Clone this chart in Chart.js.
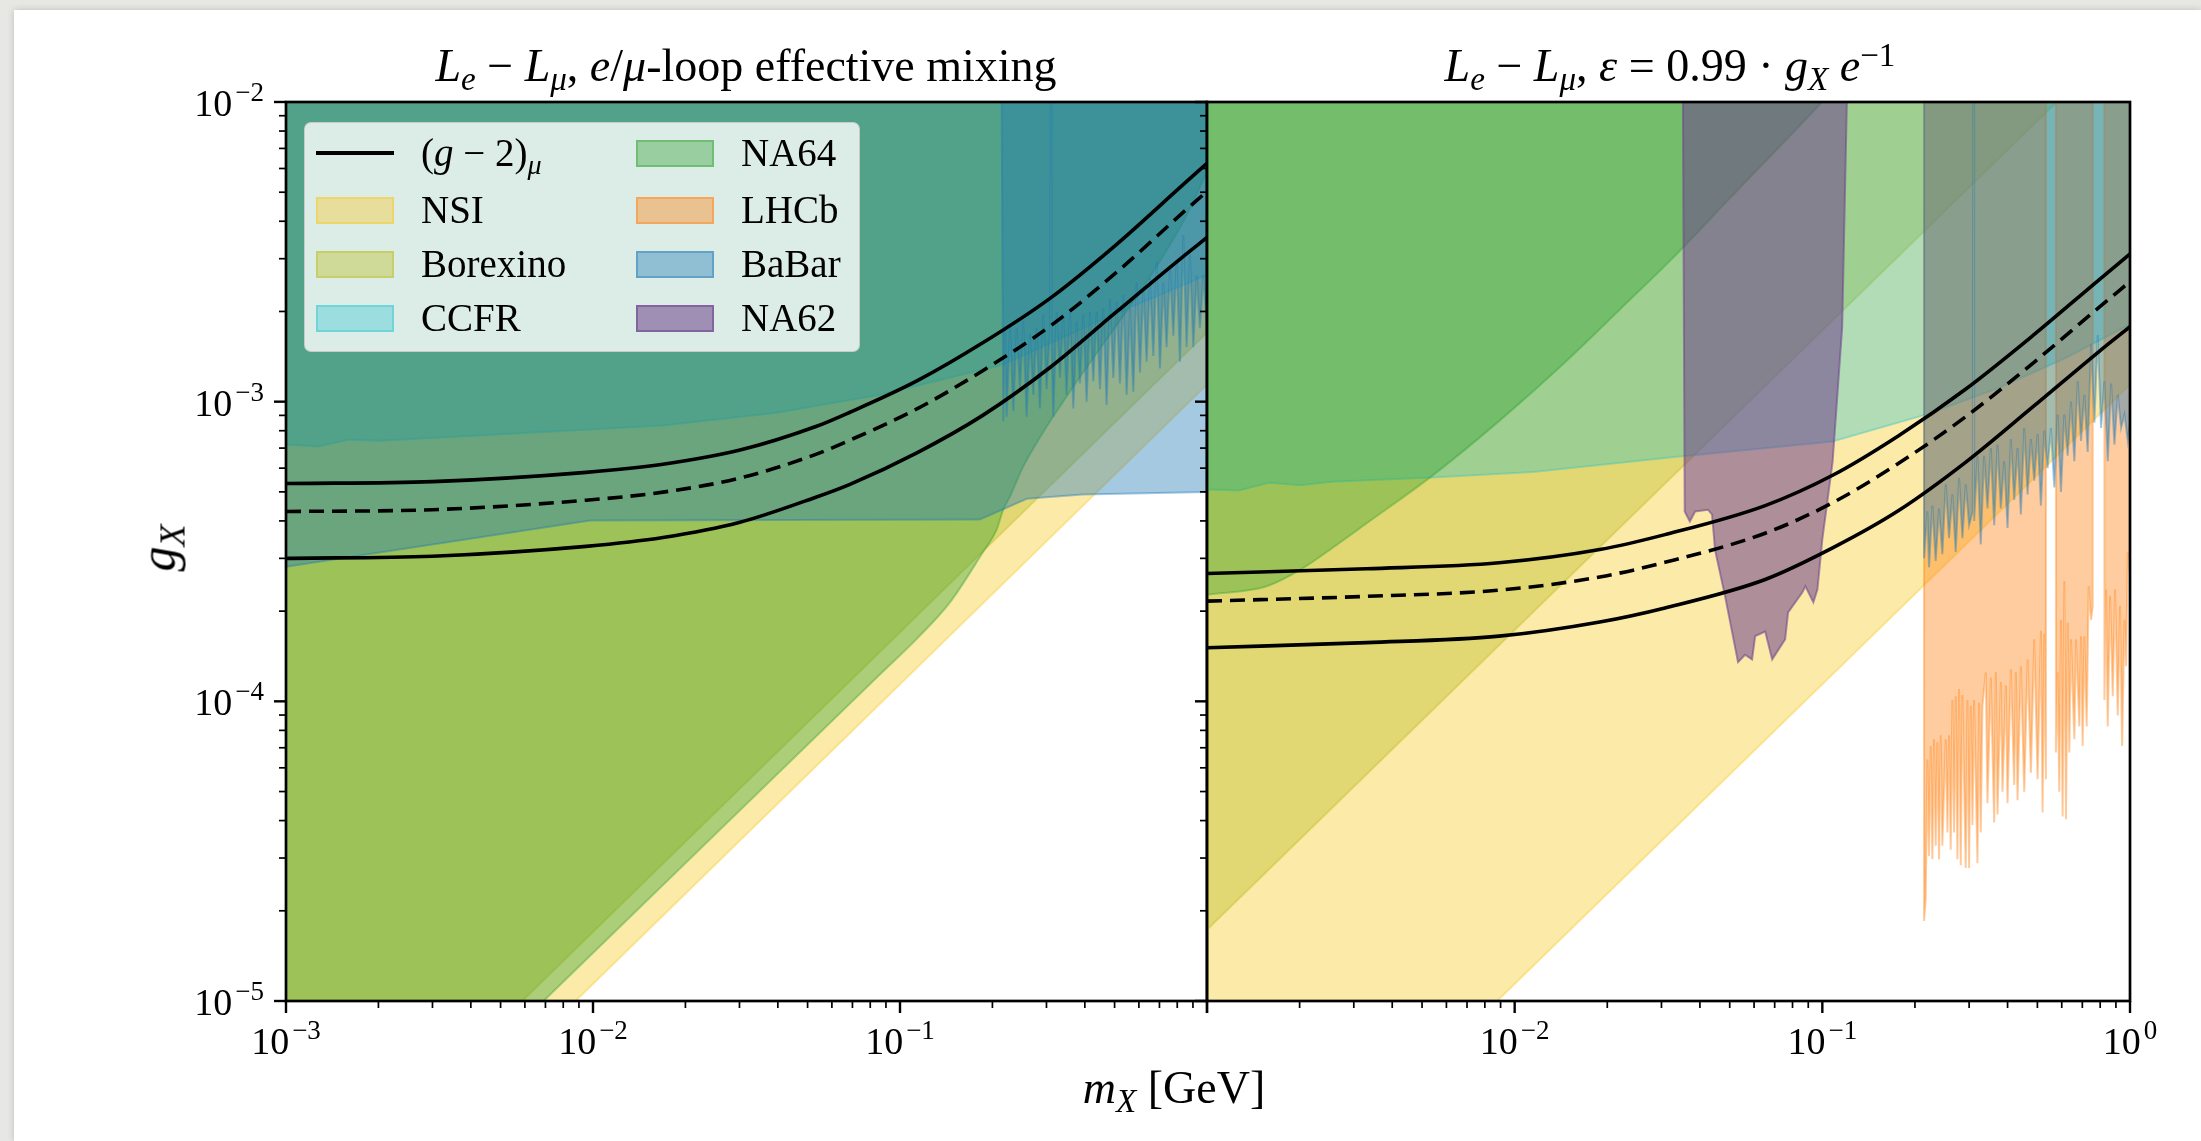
<!DOCTYPE html>
<html>
<head>
<meta charset="utf-8">
<title>L_e - L_mu constraints</title>
<script src="https://cdn.jsdelivr.net/npm/chart.js@4.4.1/dist/chart.umd.min.js"></script>
<style>
  html, body { margin: 0; padding: 0; }
  body { width: 2201px; height: 1141px; background: #e7e7e3; position: relative; overflow: hidden;
         font-family: "Liberation Serif", "DejaVu Serif", serif; color: #000; }
  #sheet { position: absolute; left: 14px; top: 10px; width: 2187px; height: 1131px; background: #fff;
           box-shadow: 0 0 7px rgba(0,0,0,0.18); }
  canvas { position: absolute; left: 0; top: 0; }
  .txt { position: absolute; white-space: nowrap; }
  .f46 { font-size: 46px; line-height: 46px; }
  .f39 { font-size: 39px; line-height: 39px; }
  .sub { position: relative; top: 0.28em; font-size: 0.72em; }
  .sup { position: relative; top: -0.45em; font-size: 0.72em; }
  #legend { position: absolute; left: 304px; top: 122px; width: 556px; height: 230px; box-sizing: border-box;
            border: 1.5px solid rgba(200,200,200,0.9); border-radius: 7px; background: rgba(255,255,255,0.8); }
  .sw { position: absolute; width: 78px; height: 27px; box-sizing: border-box; border-width: 2.5px; border-style: solid; }
  .ln { position: absolute; width: 78px; height: 3.5px; background: #000; }
</style>
</head>
<body>
<div id="sheet"></div>
<canvas id="panelLeft" width="2201" height="1141"></canvas>
<canvas id="panelRight" width="2201" height="1141"></canvas>

<div class="txt f46" style="left:746px; top:43px; transform:translateX(-50%);"><i>L</i><span class="sub"><i>e</i></span> − <i>L</i><span class="sub"><i>μ</i></span>, <i>e</i>/<i>μ</i>-loop effective mixing</div>
<div class="txt f46" style="left:1670px; top:43px; transform:translateX(-50%);"><i>L</i><span class="sub"><i>e</i></span> − <i>L</i><span class="sub"><i>μ</i></span>, <i>ε</i> = 0.99 · <i>g</i><span class="sub"><i>X</i></span> <i>e</i><span class="sup">−1</span></div>
<div class="txt" style="left:1174px; top:1065px; font-size:46px; line-height:46px; transform:translateX(-50%);"><i>m</i><span class="sub"><i>X</i></span> [GeV]</div>
<div class="txt" style="left:160px; top:548px; font-size:50px; line-height:50px; transform:translate(-50%,-50%) rotate(-90deg);"><i>g</i><span class="sub"><i>X</i></span></div>

<div id="legend"></div>

<script>
// ---------------- data: coupling limits g_X versus mass m_X [GeV] ----------------
// muon g-2 preferred band (upper edge, central value, lower edge)
const gm2UpperLoop   = [[1e-3,5.33e-4],[3.0e-3,5.41e-4],[9.5e-3,5.81e-4],[0.0169,6.18e-4],[0.0299,6.88e-4],[0.0532,8.26e-4],[0.0687,9.22e-4],[0.1135,1.173e-3],[0.186,1.572e-3],[0.308,2.212e-3],[0.509,3.358e-3],[0.836,5.30e-3],[1,6.24e-3]];
const gm2CentralLoop = [[1e-3,4.30e-4],[3.0e-3,4.36e-4],[9.5e-3,4.69e-4],[0.0169,4.99e-4],[0.0299,5.55e-4],[0.0532,6.67e-4],[0.0687,7.44e-4],[0.1135,9.46e-4],[0.186,1.269e-3],[0.308,1.785e-3],[0.509,2.709e-3],[0.836,4.28e-3],[1,5.03e-3]];
const gm2LowerLoop   = [[1e-3,3.00e-4],[3.0e-3,3.05e-4],[9.5e-3,3.29e-4],[0.0169,3.52e-4],[0.0299,3.95e-4],[0.0532,4.80e-4],[0.0687,5.30e-4],[0.1135,6.75e-4],[0.186,9.0e-4],[0.308,1.30e-3],[0.509,2.0e-3],[0.836,3.05e-3],[1,3.53e-3]];
const gm2UpperKin    = [[1e-3,2.67e-4],[3.3e-3,2.77e-4],[8.9e-3,2.90e-4],[0.0189,3.21e-4],[0.0308,3.60e-4],[0.0652,4.50e-4],[0.108,5.68e-4],[0.177,7.70e-4],[0.292,1.10e-3],[0.483,1.66e-3],[0.793,2.55e-3],[1,3.11e-3]];
const gm2CentralKin  = [[1e-3,2.16e-4],[3.3e-3,2.24e-4],[8.9e-3,2.35e-4],[0.0189,2.60e-4],[0.0308,2.91e-4],[0.0652,3.64e-4],[0.108,4.60e-4],[0.177,6.23e-4],[0.292,8.90e-4],[0.483,1.343e-3],[0.793,2.063e-3],[1,2.516e-3]];
const gm2LowerKin    = [[1e-3,1.51e-4],[3.3e-3,1.57e-4],[8.9e-3,1.65e-4],[0.0189,1.84e-4],[0.0308,2.05e-4],[0.0652,2.55e-4],[0.108,3.25e-4],[0.177,4.33e-4],[0.292,6.27e-4],[0.483,9.6e-4],[0.793,1.47e-3],[1,1.78e-3]];

// neutrino non-standard interactions (same in both panels)
const nsiBound = [[1e-3,1.14e-6],[1,1.14e-3]];
// Borexino
const borexinoLoop = [[1e-3,1.70e-6],[1,1.70e-3]];
const borexinoKin  = [[1e-3,1.73e-5],[1,1.73e-2]];
// CCFR
const ccfrLoop = [[1e-3,7.19e-4],[1.27e-3,7.08e-4],[1.6e-3,7.47e-4],[2.02e-3,7.41e-4],[5.37e-3,7.82e-4],[0.0169,8.32e-4],[0.0397,9.19e-4],[0.0861,1.055e-3],[0.217,1.33e-3],[0.466,1.9e-3],[1,2.65e-3]];
const ccfrKin  = [[1e-3,5.09e-4],[1.27e-3,5.05e-4],[1.59e-3,5.36e-4],[2.0e-3,5.26e-4],[2.55e-3,5.4e-4],[5.4e-3,5.58e-4],[0.0115,5.83e-4],[0.032,6.51e-4],[0.108,7.36e-4],[0.217,9.05e-4],[0.374,1.11e-3],[0.619,1.4e-3],[1,1.81e-3]];
// NA64
const na64Loop = [[1e-3,1.45e-6],[0.0069,1.0e-5],[0.0861,1.23e-4],[0.113,1.61e-4],[0.1455,2.14e-4],[0.186,3.14e-4],[0.2065,3.74e-4],[0.217,4.36e-4],[0.228,4.82e-4],[0.252,6.07e-4],[0.292,7.88e-4],[0.34,1.0e-3],[0.836,3.98e-3],[1,5.85e-3]];
const na64Kin  = [[1e-3,2.27e-4],[1.557e-3,2.417e-4],[1.994e-3,2.733e-4],[2.652e-3,3.337e-4],[3.296e-3,3.92e-4],[5.405e-3,5.666e-4],[8.934e-3,8.644e-4],[0.01477,1.37e-3],[0.02424,2.239e-3],[0.03198,2.951e-3],[0.05089,4.86e-3],[0.09705,9.698e-3],[0.106,1.07e-2]];
// BaBar (invisible search, loop-induced mixing)
const babarInvLoop = [[1e-3,2.81e-4],[9.8e-3,4.01e-4],[0.182,4.04e-4],[0.259,4.74e-4],[0.394,4.9e-4],[1,5.0e-4]];
// BaBar (dimuon search)
const babarMuLoop = [[0.2143,1e-2],[0.217,8.6e-4],[0.2197,1.76e-3],[0.2225,8.9e-4],[0.2282,1.8e-3],[0.2339,9.29e-4],[0.2399,1.76e-3],[0.2459,1.1e-3],[0.2521,1.85e-3],[0.2585,8.9e-4],[0.265,1.69e-3],[0.2717,1.055e-3],[0.2786,1.76e-3],[0.2856,9.5e-4],[0.2929,1.96e-3],[0.3003,1.1e-3],[0.3079,1.76e-3],[0.3095,1e-2],[0.3115,1e-2],[0.3115,1.6e-3],[0.3157,8.9e-4],[0.3237,2.0e-3],[0.3319,1.2e-3],[0.3402,1.96e-3],[0.3488,1.055e-3],[0.3577,2.05e-3],[0.3668,9.5e-4],[0.376,1.85e-3],[0.3856,1.15e-3],[0.3954,1.96e-3],[0.4054,1.0e-3],[0.4157,2.0e-3],[0.4262,1.17e-3],[0.437,2.0e-3],[0.4481,1.1e-3],[0.4594,2.05e-3],[0.471,9.75e-4],[0.483,2.2e-3],[0.4952,1.2e-3],[0.5077,2.16e-3],[0.5206,1.15e-3],[0.5338,2.27e-3],[0.5473,1.055e-3],[0.5612,2.05e-3],[0.5753,1.08e-3],[0.5899,2.5e-3],[0.6049,1.25e-3],[0.6202,2.4e-3],[0.6359,1.36e-3],[0.652,2.58e-3],[0.6683,1.42e-3],[0.6855,2.94e-3],[0.7026,1.29e-3],[0.7206,2.5e-3],[0.7386,1.52e-3],[0.7576,2.8e-3],[0.7767,1.66e-3],[0.7964,2.94e-3],[0.8165,1.36e-3],[0.8372,3.6e-3],[0.8582,1.52e-3],[0.8801,3.09e-3],[0.9024,1.52e-3],[0.9252,2.64e-3],[0.9486,1.76e-3],[0.9725,2.64e-3],[1.0,1.76e-3]];
const babarMuKin = [[0.2141,1e-2],[0.2141,3.0e-4],[0.2195,4.31e-4],[0.2222,2.8e-4],[0.2278,4.5e-4],[0.2336,2.94e-4],[0.2395,4.4e-4],[0.2455,3.1e-4],[0.2518,5.3e-4],[0.2581,3.5e-4],[0.2647,4.9e-4],[0.2714,3.15e-4],[0.2783,5.57e-4],[0.2853,3.5e-4],[0.2925,5.3e-4],[0.2999,3.87e-4],[0.3083,4.31e-4],[0.3095,1e-2],[0.3115,1e-2],[0.3115,4.0e-4],[0.3193,6.6e-4],[0.3273,3.34e-4],[0.3356,6.6e-4],[0.3441,4.4e-4],[0.3529,7.0e-4],[0.3618,3.87e-4],[0.371,7.19e-4],[0.3803,4.4e-4],[0.39,6.33e-4],[0.3999,3.79e-4],[0.41,7.5e-4],[0.4203,4.7e-4],[0.431,7.0e-4],[0.4419,4.2e-4],[0.4531,8.17e-4],[0.4646,4.9e-4],[0.4763,7.5e-4],[0.4884,5.45e-4],[0.5008,7.8e-4],[0.5134,4.5e-4],[0.5265,8.0e-4],[0.5398,6.0e-4],[0.5534,8.17e-4],[0.5674,5.17e-4],[0.5817,9.06e-4],[0.5965,5.0e-4],[0.6117,9.06e-4],[0.6272,6.6e-4],[0.643,1.0e-3],[0.6593,6.33e-4],[0.676,1.17e-3],[0.693,7.4e-4],[0.7106,1.055e-3],[0.7286,6.8e-4],[0.7471,1.55e-3],[0.766,8.5e-4],[0.7854,1.67e-3],[0.8053,8.17e-4],[0.8257,1.17e-3],[0.8467,6.33e-4],[0.8682,1.15e-3],[0.8899,7.19e-4],[0.9125,1.055e-3],[0.9356,8.17e-4],[0.9592,9.06e-4],[0.9835,7.4e-4],[1.0,8.5e-4]];
// LHCb dimuon search, three mass windows
const lhcbWindowA = [[0.2141,1e-2],[0.2141,1.85e-5],[0.2168,2.19e-5],[0.2195,6.4e-5],[0.2222,3.05e-5],[0.225,7.1e-5],[0.2278,2.97e-5],[0.2307,7.47e-5],[0.2336,3.3e-5],[0.2365,7.3e-5],[0.2395,2.97e-5],[0.2425,7.7e-5],[0.2455,3.3e-5],[0.2518,7.47e-5],[0.255,3.65e-5],[0.2581,7.7e-5],[0.2614,3.2e-5],[0.2647,1.01e-4],[0.268,3.65e-5],[0.2714,1.04e-4],[0.2748,2.97e-5],[0.2783,1.1e-4],[0.2818,2.84e-5],[0.2853,1.05e-4],[0.2925,2.78e-5],[0.2962,1.01e-4],[0.2999,2.78e-5],[0.3037,9.65e-5],[0.3075,3.87e-5],[0.3114,1.01e-4],[0.3193,2.88e-5],[0.3233,9.9e-5],[0.3273,3.65e-5],[0.3314,9.65e-5],[0.3398,1.25e-4],[0.3441,4.57e-5],[0.3529,1.2e-4],[0.3618,3.94e-5],[0.3663,1.25e-4],[0.371,4.19e-5],[0.3803,1.16e-4],[0.3851,4.99e-5],[0.3949,1.13e-4],[0.3999,4.57e-5],[0.41,1.28e-4],[0.4203,5.26e-5],[0.4256,1.25e-4],[0.431,4.68e-5],[0.4419,1.31e-4],[0.4531,4.99e-5],[0.4646,1.38e-4],[0.4763,5.78e-5],[0.4884,1.61e-4],[0.5008,5.5e-5],[0.5134,1.72e-4],[0.5199,4.26e-5],[0.5265,1.68e-4],[0.5331,5.5e-5],[0.5331,1e-2]];
const lhcbWindowB = [[0.5744,1e-2],[0.5744,6.75e-5],[0.5817,1.25e-4],[0.589,4.99e-5],[0.5965,1.87e-4],[0.604,4.13e-5],[0.6117,2.52e-4],[0.6194,4.04e-5],[0.6272,1.83e-4],[0.635,6.75e-5],[0.643,1.61e-4],[0.6593,7.47e-5],[0.6676,1.61e-4],[0.6844,8.25e-5],[0.693,1.65e-4],[0.7018,7.1e-5],[0.7106,1.65e-4],[0.7232,8.25e-5],[0.734,2.42e-4],[0.7471,1.87e-4],[0.7565,2.08e-4],[0.7565,1e-2]];
const lhcbWindowC = [[0.8257,1e-2],[0.8257,1.01e-4],[0.8361,2.36e-4],[0.8467,8.25e-5],[0.8617,2.25e-4],[0.879,1.04e-4],[0.8944,2.36e-4],[0.9125,8.97e-5],[0.9286,2.08e-4],[0.9426,7.1e-5],[0.9592,1.87e-4],[0.9713,1.31e-4],[0.9835,3.14e-4],[1.0,2.69e-4],[1.0,1e-2]];
// NA62
const na62Kin = [[0.0352,1.2e-2],[0.0357,4.3e-4],[0.0371,3.98e-4],[0.0386,4.3e-4],[0.0425,4.36e-4],[0.0438,4.2e-4],[0.0448,3.2e-4],[0.0483,2.24e-4],[0.0532,1.35e-4],[0.0561,1.43e-4],[0.0591,1.38e-4],[0.0605,1.65e-4],[0.0652,1.71e-4],[0.0687,1.38e-4],[0.0757,1.61e-4],[0.0774,1.98e-4],[0.0861,2.31e-4],[0.0881,2.42e-4],[0.0935,2.14e-4],[0.0964,2.36e-4],[0.1,3.47e-4],[0.108,6.3e-4],[0.116,1.77e-3],[0.1206,1.2e-2]];

// axis decades
const xDecades = [-3, -2, -1, 0];
const yDecades = [-5, -4, -3, -2];
const xLabelsLeft = [-3, -2, -1];
const xLabelsRight = [-2, -1, 0];
const yLabelsLeft = [-5, -4, -3, -2];

// ---------------- styling ----------------
const palette = {
  nsi: [247, 200, 30, 0.38], borexino: [188, 189, 34, 0.40], ccfr: [23, 190, 207, 0.33],
  na64: [44, 160, 44, 0.38], lhcb: [255, 127, 14, 0.40], babar: [31, 119, 180, 0.40], na62: [110, 65, 140, 0.55]
};
const rgba = k => { const c = palette[k]; return `rgba(${c[0]},${c[1]},${c[2]},${c[3]})`; };
const pts = arr => arr.map(([x, y]) => ({ x, y }));

function region(label, arr, key, smooth) {
  const ds = { label, data: pts(arr), fill: 'end', backgroundColor: rgba(key), borderColor: rgba(key),
               borderWidth: 2, pointRadius: 0, tension: 0 };
  if (smooth) ds.cubicInterpolationMode = 'monotone';
  return ds;
}
function gm2(label, arr, dashed) {
  return { label, data: pts(arr), fill: false, borderColor: '#000', borderWidth: 3.6,
           borderDash: dashed ? [15, 8] : [], pointRadius: 0, cubicInterpolationMode: 'monotone' };
}

// ---------------- frame, ticks and power-of-ten labels ----------------
const MAIN_FONT = '38px "Liberation Serif", serif';
const EXP_FONT = '27px "Liberation Serif", serif';
function drawPower(ctx, exp, x, baseY, align) {
  const base = '10', sup = exp < 0 ? '\u2212' + (-exp) : String(exp);
  ctx.font = MAIN_FONT; const wb = ctx.measureText(base).width;
  ctx.font = EXP_FONT; const ws = ctx.measureText(sup).width;
  const gap = 3, total = wb + gap + ws;
  const x0 = align === 'center' ? x - total / 2 : x - total;
  ctx.textAlign = 'left'; ctx.textBaseline = 'alphabetic';
  ctx.font = MAIN_FONT; ctx.fillText(base, x0, baseY);
  ctx.font = EXP_FONT; ctx.fillText(sup, x0 + wb + gap, baseY - 15);
}

const frameAndTicks = {
  id: 'frameAndTicks',
  afterDatasetsDraw(chart, args, o) {
    const { ctx, chartArea: a, scales: { x, y } } = chart;
    ctx.save();
    ctx.strokeStyle = '#000'; ctx.fillStyle = '#000'; ctx.lineCap = 'butt';
    const seg = (x1, y1, x2, y2, w) => { ctx.lineWidth = w; ctx.beginPath(); ctx.moveTo(x1, y1); ctx.lineTo(x2, y2); ctx.stroke(); };
    xDecades.forEach(e => {
      for (let k = 1; k <= 9; k++) {
        if (e === 0 && k > 1) break;
        const px = x.getPixelForValue(k * Math.pow(10, e));
        const major = k === 1;
        seg(px, a.bottom, px, a.bottom + (major ? 12 : 7), major ? 2.4 : 1.7);
      }
    });
    if (o.yTicks) {
      yDecades.forEach(e => {
        for (let k = 1; k <= 9; k++) {
          if (e === -2 && k > 1) break;
          const py = y.getPixelForValue(k * Math.pow(10, e));
          const major = k === 1;
          const len = major ? 12 : 7, w = major ? 2.4 : 1.7;
          seg(a.left - len, py, a.left, py, w);
          seg(a.right - len, py, a.right, py, w);
        }
      });
    }
    ctx.lineWidth = 2.7;
    ctx.strokeRect(a.left, a.top, a.right - a.left, a.bottom - a.top);
    o.xLabels.forEach(e => drawPower(ctx, e, x.getPixelForValue(Math.pow(10, e)), a.bottom + 53, 'center'));
    (o.yLabels || []).forEach(e => drawPower(ctx, e, a.left - 22, y.getPixelForValue(Math.pow(10, e)) + 14, 'right'));
    ctx.restore();
  }
};

function makeChart(id, datasets, pad, yWidth, deco) {
  return new Chart(document.getElementById(id), {
    type: 'line',
    data: { datasets },
    options: {
      responsive: false, animation: false, devicePixelRatio: 1, events: [],
      layout: { padding: pad },
      plugins: { legend: { display: false }, tooltip: { enabled: false }, frameAndTicks: deco },
      scales: {
        x: { type: 'logarithmic', min: 1e-3, max: 1, ticks: { display: false }, grid: { display: false },
             border: { display: false }, afterFit: s => { s.height = 140; } },
        y: { type: 'logarithmic', min: 1e-5, max: 1e-2, ticks: { display: false }, grid: { display: false },
             border: { display: false }, afterFit: s => { s.width = yWidth; } }
      }
    },
    plugins: [frameAndTicks]
  });
}

// first dataset is drawn on top
makeChart('panelLeft', [
  gm2('(g-2) upper', gm2UpperLoop, false),
  gm2('(g-2) central', gm2CentralLoop, true),
  gm2('(g-2) lower', gm2LowerLoop, false),
  region('BaBar', babarMuLoop, 'babar'),
  region('BaBar', babarInvLoop, 'babar'),
  region('NA64', na64Loop, 'na64', true),
  region('CCFR', ccfrLoop, 'ccfr'),
  region('Borexino', borexinoLoop, 'borexino'),
  region('NSI', nsiBound, 'nsi')
], { left: 0, right: 2201 - 1207, top: 102, bottom: 0 }, 286,
   { yTicks: true, xLabels: xLabelsLeft, yLabels: yLabelsLeft });

makeChart('panelRight', [
  gm2('(g-2) upper', gm2UpperKin, false),
  gm2('(g-2) central', gm2CentralKin, true),
  gm2('(g-2) lower', gm2LowerKin, false),
  region('NA62', na62Kin, 'na62'),
  region('BaBar', babarMuKin, 'babar'),
  region('LHCb', lhcbWindowA, 'lhcb'),
  region('LHCb', lhcbWindowB, 'lhcb'),
  region('LHCb', lhcbWindowC, 'lhcb'),
  region('NA64', na64Kin, 'na64', true),
  region('CCFR', ccfrKin, 'ccfr'),
  region('Borexino', borexinoKin, 'borexino'),
  region('NSI', nsiBound, 'nsi')
], { left: 1207, right: 2201 - 2130, top: 102, bottom: 0 }, 0,
   { yTicks: false, xLabels: xLabelsRight, yLabels: [] });

// ---------------- legend ----------------
const legendItems = [
  { col: 0, row: 0, line: true, html: '(<i>g</i> − 2)<span class="sub"><i>μ</i></span>' },
  { col: 0, row: 1, key: 'nsi', html: 'NSI' },
  { col: 0, row: 2, key: 'borexino', html: 'Borexino' },
  { col: 0, row: 3, key: 'ccfr', html: 'CCFR' },
  { col: 1, row: 0, key: 'na64', html: 'NA64' },
  { col: 1, row: 1, key: 'lhcb', html: 'LHCb' },
  { col: 1, row: 2, key: 'babar', html: 'BaBar' },
  { col: 1, row: 3, key: 'na62', html: 'NA62' }
];
const legend = document.getElementById('legend');
const rowY = [30, 87, 141, 195], handleX = [11, 331], textX = [116, 436];
legendItems.forEach(it => {
  const cy = rowY[it.row];
  const h = document.createElement('div');
  if (it.line) {
    h.className = 'ln';
    h.style.left = handleX[it.col] + 'px'; h.style.top = (cy - 1.75) + 'px';
  } else {
    h.className = 'sw';
    h.style.left = handleX[it.col] + 'px'; h.style.top = (cy - 13.5) + 'px';
    h.style.background = rgba(it.key); h.style.borderColor = rgba(it.key);
  }
  legend.appendChild(h);
  const t = document.createElement('div');
  t.className = 'txt f39';
  t.style.left = textX[it.col] + 'px'; t.style.top = (cy - 20) + 'px';
  t.innerHTML = it.html;
  legend.appendChild(t);
});
</script>
</body>
</html>
